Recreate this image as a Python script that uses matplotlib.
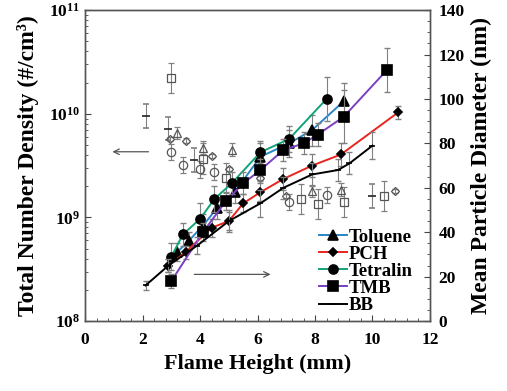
import numpy as np
import matplotlib
matplotlib.use("Agg")
import matplotlib.pyplot as plt
from matplotlib.ticker import AutoMinorLocator, FixedLocator, NullFormatter, LogLocator

plt.rcParams['font.family'] = ['Liberation Serif', 'DejaVu Serif']
plt.rcParams['font.weight'] = 'bold'
plt.rcParams['mathtext.fontset'] = 'custom'
plt.rcParams['mathtext.rm'] = 'Liberation Serif:bold'
plt.rcParams['mathtext.bf'] = 'Liberation Serif:bold'

# --- mean particle diameter (right axis, nm) ---
tol_h = [3.2, 3.6, 4.1, 4.6, 5.2, 6.1, 7.1, 7.9, 9.0]
tol_d = [31, 36, 43, 51, 58, 74, 80, 86, 99]
tol_e = [4, 4, 5, 5, 5, 6, 6, 7, 8]

pch_h = [2.9, 3.5, 4.4, 5.0, 5.5, 6.1, 6.9, 7.9, 8.9, 10.9]
pch_d = [25, 31, 42, 45, 53, 58, 64, 70, 75, 94]
pch_e = [3, 3, 4, 4, 4, 4, 5, 5, 5, 3]

tet_h = [3.0, 3.4, 4.0, 4.5, 5.1, 6.1, 7.1, 8.4]
tet_d = [29, 39, 46, 55, 62, 76, 82, 100]
tet_e = [6, 5, 7, 6, 5, 5, 6, 10]

tmb_h = [3.0, 4.1, 4.9, 5.5, 6.1, 6.9, 7.6, 8.1, 9.0, 10.5]
tmb_d = [18, 40, 54, 62, 68, 77, 80, 84, 92, 113]
tmb_e = [3, 4, 4, 5, 5, 5, 5, 5, 12, 10]

bb_h = [2.1, 2.9, 3.9, 5.0, 6.1, 6.9, 7.9, 8.8, 9.2, 10.0]
bb_d = [16, 25, 34, 45, 53, 60, 66, 68, 71, 79]
bb_e = [2, 3, 4, 5, 6, 5, 5, 5, 5, 6]

# --- total number density (left axis, #/cm3) ---
tol_nh = [3.2, 4.1, 5.1, 7.9, 8.9]
tol_n = [6.5e9, 4.7e9, 4.5e9, 1.8e9, 1.85e9]

pch_nh = [2.95, 3.5, 4.4, 5.0, 6.1, 7.0, 10.8]
pch_n = [5.7e9, 5.5e9, 3.9e9, 2.95e9, 2.4e9, 1.6e9, 1.8e9]

tet_nh = [3.0, 3.4, 4.0, 4.5, 7.1, 8.4]
tet_n = [4.3e9, 3.2e9, 2.9e9, 2.75e9, 1.4e9, 1.65e9]

tmb_nh = [3.0, 4.1, 4.9, 7.5, 8.1, 9.0, 10.4]
tmb_n = [2.2e10, 3.7e9, 2.4e9, 1.5e9, 1.35e9, 1.4e9, 1.6e9]

bb_nh = [2.1, 2.9, 3.8, 10.0]
bb_n = [9.5e9, 7.2e9, 3.6e9, 1.6e9]

fig = plt.figure(figsize=(5.07, 3.91), dpi=100)
ax = fig.add_axes([0.168, 0.179, 0.680, 0.795])
ax2 = ax.twinx()

gray = '#808080'

def nerr(vals, f):
    vals = np.array(vals)
    return [vals - vals / f, vals * f - vals]

# open symbols, number density
ax.errorbar(tmb_nh, tmb_n, yerr=nerr(tmb_n, 1.4), fmt='s', mfc='none', mec='#555555',
            ms=6, mew=0.9, ecolor=gray, elinewidth=0.8, capsize=2.5)
ax.errorbar(tol_nh, tol_n, yerr=nerr(tol_n, 1.15), fmt='^', mfc='none', mec='#555555',
            ms=6, mew=0.9, ecolor=gray, elinewidth=0.8, capsize=2.5)
ax.errorbar(pch_nh, pch_n, yerr=nerr(pch_n, 1.05), fmt='D', mfc='none', mec='#555555',
            ms=4.5, mew=0.9, ecolor=gray, elinewidth=0.8, capsize=2.5)
ax.errorbar(tet_nh, tet_n, yerr=nerr(tet_n, 1.2), fmt='o', mfc='none', mec='#555555',
            ms=6, mew=0.9, ecolor=gray, elinewidth=0.8, capsize=2.5)
ax.errorbar(bb_nh, bb_n, yerr=nerr(bb_n, 1.3), fmt='_', mec='#222222',
            ms=6, mew=1.2, ecolor=gray, elinewidth=0.8, capsize=2.5)

# filled symbols + lines, diameter
series = [
    (tol_h, tol_d, tol_e, '#2a86c8', '^', 6.5, 'Toluene'),
    (pch_h, pch_d, pch_e, '#e8251f', 'D', 4.5, 'PCH'),
    (tet_h, tet_d, tet_e, '#12a37a', 'o', 6.5, 'Tetralin'),
    (tmb_h, tmb_d, tmb_e, '#7b3fbf', 's', 6.5, 'TMB'),
    (bb_h, bb_d, bb_e, 'black', '_', 5, 'BB'),
]
handles = []
for h, d, e, c, m, ms, lab in series:
    ax2.errorbar(h, d, yerr=e, fmt='none', ecolor=gray, elinewidth=0.8, capsize=2.5)
    ln, = ax2.plot(h, d, color=c, lw=1.4, marker=m, ms=ms, mfc='black', mec='black',
                   mew=1.2, label=lab)
    handles.append(ln)

ax.set_xlim(0, 12)
ax.set_yscale('log')
ax.set_ylim(1e8, 1e11)
ax2.set_ylim(0, 140)

ax.xaxis.set_major_locator(FixedLocator([0, 2, 4, 6, 8, 10, 12]))
ax.xaxis.set_minor_locator(AutoMinorLocator(5))
ax.yaxis.set_major_locator(FixedLocator([1e8, 1e9, 1e10, 1e11]))
ax.yaxis.set_minor_locator(LogLocator(base=10, subs=np.arange(2, 10)))
ax.yaxis.set_minor_formatter(NullFormatter())
ax.set_yticklabels([r'$\mathbf{10^{8}}$', r'$\mathbf{10^{9}}$',
                    r'$\mathbf{10^{10}}$', r'$\mathbf{10^{11}}$'])
ax2.yaxis.set_major_locator(FixedLocator(np.arange(0, 141, 20)))
ax2.yaxis.set_minor_locator(AutoMinorLocator(4))

for a in (ax, ax2):
    a.tick_params(which='both', direction='in', labelsize=12.5, color='#444444')
    a.tick_params(which='major', length=4)
    a.tick_params(which='minor', length=2.5)
    for s in a.spines.values():
        s.set_color('#555555')
        s.set_linewidth(1.0)
ax.tick_params(axis='x', pad=8)
ax2.tick_params(axis='y', pad=6)

ax.set_xlabel('Flame Height (mm)', fontsize=16, fontweight='bold', labelpad=4)
ax.set_ylabel('Total Number Density (#/cm³)', fontsize=17, fontweight='bold', labelpad=7)
ax2.set_ylabel('Mean Particle Diameter (nm)', fontsize=17, fontweight='bold', labelpad=5)

ax.annotate('', xy=(0.85, 4.3e9), xytext=(2.3, 4.3e9),
            arrowprops=dict(arrowstyle='->', color='#555555', lw=0.9))
ax2.annotate('', xy=(6.55, 21), xytext=(3.7, 21),
             arrowprops=dict(arrowstyle='->', color='#555555', lw=0.9))

leg = ax2.legend(handles=handles, loc='lower left', bbox_to_anchor=(0.64, -0.02),
                 frameon=False, fontsize=13.5, handlelength=1.5, handletextpad=0.1,
                 labelspacing=0.0, borderpad=0.2)

fig.savefig('out.png', dpi=100)
